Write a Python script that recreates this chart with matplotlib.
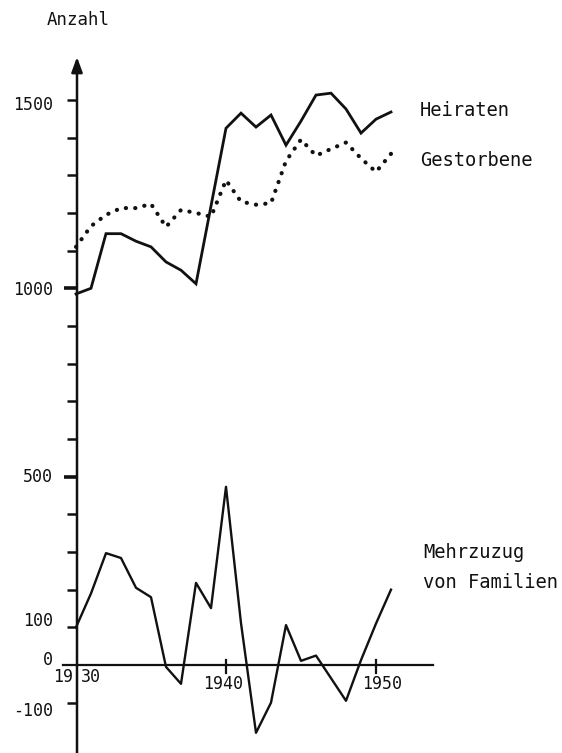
import numpy as np
import matplotlib
matplotlib.use("Agg")
import matplotlib.pyplot as plt
from matplotlib import font_manager

# values
years_heiraten = [1930, 1931, 1932, 1933, 1934, 1935, 1936, 1937, 1938,
                  1940, 1941, 1942, 1943, 1944, 1945, 1946, 1947, 1948,
                  1949, 1950, 1951]
heiraten = [985, 1000, 1145, 1145, 1125, 1110, 1070, 1048, 1012,
            1425, 1465, 1428, 1460, 1380, 1444, 1513, 1518, 1476,
            1412, 1449, 1468]

years = list(range(1930, 1952))
gestorbene = [1110, 1165, 1195, 1213, 1213, 1224, 1163, 1208, 1200, 1190,
              1287, 1230, 1222, 1226, 1338, 1395, 1352, 1370, 1387, 1345,
              1309, 1357]
mehrzuzug = [100, 190, 297, 284, 205, 180, -5, -50, 218, 151,
             473, 111, -180, -100, 106, 11, 25, -35, -95, 13,
             110, 200]

ytick_vals = list(range(-100, 1600, 100))
ytick_labels = {1500: "1500", 1000: "1000", 500: "500", 100: "100", 0: "0", -100: "-100"}
xtick_vals = [1940, 1950]

# pixel -> data mapping (1930 at x=76px, 15px per year; 0 at y=665px)
X0, SX, Y0, SY = 76, 15.0, 665, 0.3767
W, H = 562, 753


def px(x, y):
    return 1930 + (x - X0) / SX, (Y0 - y) / SY


fig = plt.figure(figsize=(W / 100, H / 100), dpi=100)
ax = fig.add_axes([0, 0, 1, 1])
ax.set_xlim(px(0, 0)[0], px(W, 0)[0])
ax.set_ylim(px(0, H)[1], px(0, 0)[1])
ax.axis("off")

ink = "#111111"
mono = "DejaVu Sans Mono"
installed = {f.name for f in font_manager.fontManager.ttflist}
if "Liberation Sans Narrow" in installed:
    num_font, num_size = "Liberation Sans Narrow", 15.5
else:
    num_font, num_size = mono, 12

# y axis with arrow
ax.annotate("", xy=px(77, 57), xytext=px(77, H + 5),
            arrowprops=dict(arrowstyle="-|>,head_length=0.9,head_width=0.33",
                            lw=1.8, color=ink, shrinkA=0, shrinkB=0))
for v in ytick_vals:
    if v == 0:
        continue
    bold = v in (500, 1000)
    x_left = px(64 if bold else 67, 0)[0]
    ax.plot([x_left, 1930], [v, v], color=ink, lw=2.6 if bold else 1.8,
            solid_capstyle="butt")

# x axis
ax.plot([px(63, 0)[0], px(433, 0)[0]], [0, 0], color=ink, lw=1.6)
for xv in xtick_vals:
    ax.plot([xv, xv], [px(0, 660)[1], px(0, 673)[1]], color=ink, lw=1.6)

# series
ax.plot(years_heiraten, heiraten, color=ink, lw=2.0, solid_joinstyle="miter")
ax.plot(years, gestorbene, color=ink, lw=3.0, linestyle=(0, (0.05, 2.2)),
        dash_capstyle="round")
ax.plot(years, mehrzuzug, color=ink, lw=1.7)

# tick labels
label_pos = {1500: 105, 1000: 290, 500: 477, 100: 621, 0: 660, -100: 711}
for v, lab in ytick_labels.items():
    ax.text(*px(53, label_pos[v]), lab, ha="right", va="center",
            fontsize=num_size, family=num_font, color=ink)

ax.text(*px(73, 677), "19", ha="right", va="center", fontsize=num_size,
        family=num_font, color=ink)
ax.text(*px(81, 677), "30", ha="left", va="center", fontsize=num_size,
        family=num_font, color=ink)
ax.text(*px(223, 684), "1940", ha="center", va="center", fontsize=num_size,
        family=num_font, color=ink)
ax.text(*px(382, 684), "1950", ha="center", va="center", fontsize=num_size,
        family=num_font, color=ink)

# titles / series names
ax.text(*px(47, 20), "Anzahl", ha="left", va="center", fontsize=12.5,
        family=mono, color=ink)
ax.text(*px(420, 111), "Heiraten", ha="left", va="center", fontsize=13.5,
        family=mono, color=ink)
ax.text(*px(420, 161), "Gestorbene", ha="left", va="center", fontsize=13.5,
        family=mono, color=ink)
ax.text(*px(423, 553), "Mehrzuzug", ha="left", va="center", fontsize=13.5,
        family=mono, color=ink)
ax.text(*px(423, 583), "von Familien", ha="left", va="center", fontsize=13.5,
        family=mono, color=ink)

fig.savefig("out.png", dpi=100)
